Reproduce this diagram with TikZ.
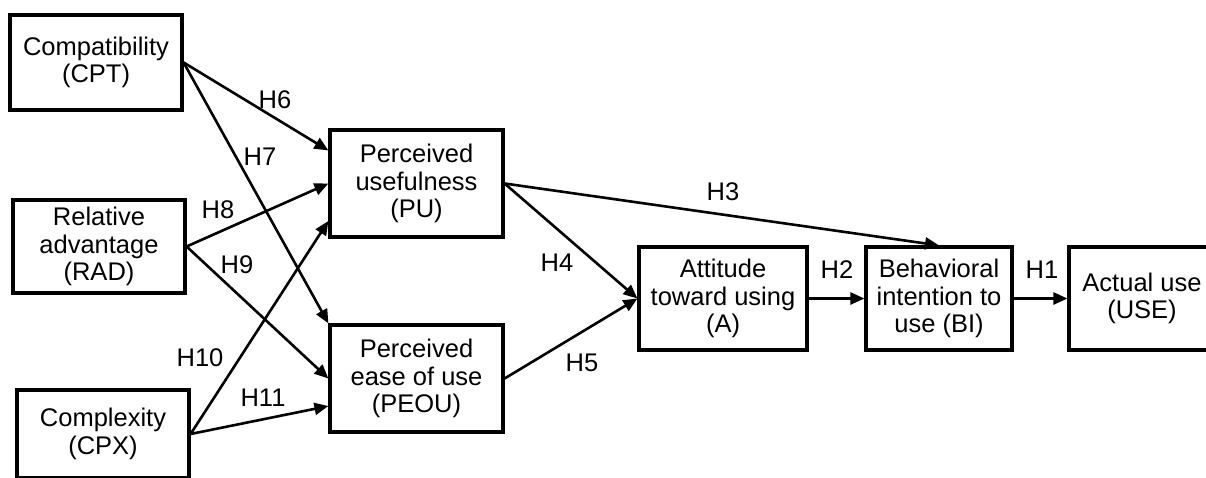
\documentclass[tikz,border=0pt]{standalone}
\usepackage{fontspec}
\setmainfont{Liberation Sans}
\usetikzlibrary{arrows.meta,calc}
\begin{document}
\begin{tikzpicture}[x=1pt,y=-1pt,
  box/.style={draw, line width=3.2pt, align=center, inner sep=0pt, font=\fontsize{25.5}{27.5}\selectfont},
  conn/.style={line width=2.6pt, -{Triangle[length=14pt,width=12pt]}},
  lab/.style={font=\fontsize{25.5}{27.5}\selectfont, inner sep=0pt}]
\useasboundingbox (0,0) rectangle (1206,477);
\clip (0,0) rectangle (1206,477);
\node[box, minimum width=172pt, minimum height=95pt] (cpt) at (96,62.5) {Compatibility\\(CPT)};
\node[box, minimum width=172pt, minimum height=93pt] (rad) at (99,246.5) {Relative\\advantage\\(RAD)};
\node[box, minimum width=172pt, minimum height=88pt] (cpx) at (103,434) {Complexity\\(CPX)};
\node[box, minimum width=173pt, minimum height=107pt] (pu) at (416.5,183.5) {Perceived\\usefulness\\(PU)};
\node[box, minimum width=173pt, minimum height=107pt] (peou) at (416.5,378.5) {Perceived\\ease of use\\(PEOU)};
\node[box, minimum width=168pt, minimum height=103pt] (a) at (723,298.5) {Attitude\\toward using\\(A)};
\node[box, minimum width=146pt, minimum height=103pt] (bi) at (939,298.5) {Behavioral\\intention to\\use (BI)};
\node[box, minimum width=146pt, minimum height=103pt] (use) at (1142,298.5) {Actual use\\(USE)};

\draw[conn] (cpt.east) -- ($(pu.north west)!0.2!(pu.south west)$);
\draw[conn] (cpt.east) -- (peou.north west);
\draw[conn] (rad.east) -- (pu.west);
\draw[conn] (rad.east) -- (peou.west);
\draw[conn] (cpx.east) -- ($(pu.north west)!0.84!(pu.south west)$);
\draw[conn] (cpx.east) -- ($(peou.north west)!0.75!(peou.south west)$);
\draw[conn] (pu.east) -- (a.west);
\draw[conn] (peou.east) -- (a.west);
\draw[conn] (pu.east) -- (bi.north);
\draw[conn] (a.east) -- (bi.west);
\draw[conn] (bi.east) -- (use.west);

\node[lab] (h6) at (275,100) {H6};
\node[lab] (h7) at (260,157) {H7};
\node[lab] (h8) at (218,210) {H8};
\node[lab] (h9) at (237,265) {H9};
\node[lab] (h10) at (200,358) {H10};
\node[lab] (h11) at (263,398) {H11};
\node[lab] (h4) at (557,263) {H4};
\node[lab] (h5) at (582,363) {H5};
\node[lab] (h3) at (723,192) {H3};
\node[lab] (h2) at (837,270) {H2};
\node[lab] (h1) at (1042,270) {H1};
\end{tikzpicture}
\end{document}
